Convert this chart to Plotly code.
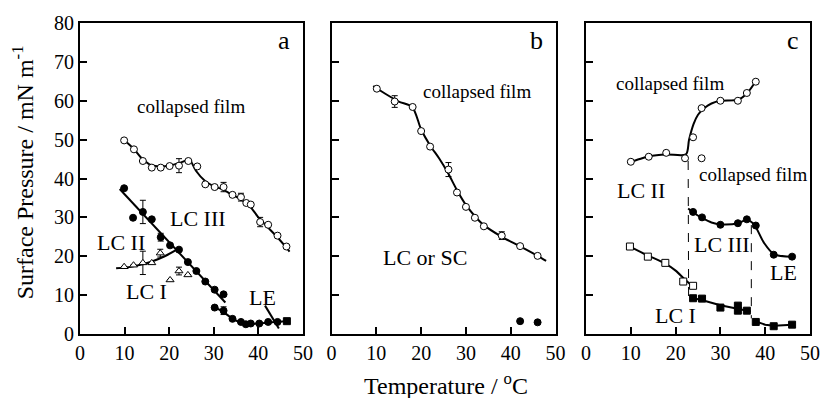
import plotly.graph_objects as go

# ---------------- Panel a data ----------------
a_open_T = [9.9, 12.1, 14.1, 16.1, 18.1, 20.1, 22.2, 24.3, 26.3, 28.1, 30.2, 32.2, 34.2, 36.1, 37.3, 38.3, 40.4, 42.2, 44.3, 46.3]
a_open_P = [49.8, 47.5, 44.5, 42.8, 42.8, 43.2, 43.3, 44.5, 43.1, 38.5, 37.8, 37.8, 35.8, 35.2, 33.7, 33.3, 28.8, 28.1, 25.3, 22.5]
a_open_err = [0, 0, 0, 0, 0, 0, 1.8, 0, 0, 0, 0, 1.2, 0, 1.0, 0, 0, 1.2, 0, 0, 0]
a_open_fit_T = [9.5, 12, 14, 16, 18, 20, 22, 24, 24.6, 26, 28, 30, 32, 34, 36, 38, 40, 42, 44, 46, 47]
a_open_fit_P = [50.3, 47.7, 45.0, 43.4, 43.1, 43.3, 43.9, 44.7, 44.8, 42.0, 39.4, 38.0, 37.2, 35.9, 34.7, 33.0, 30.0, 27.6, 25.2, 22.6, 21.2]

a_fill_T = [9.9, 11.9, 14.1, 16.1, 18.1, 20.2, 22.2, 24.2, 26.1, 28.1, 30.2, 32.2]
a_fill_P = [37.5, 29.9, 31.4, 29.5, 24.9, 22.8, 21.7, 18.5, 16.2, 13.5, 11.4, 10.2]
a_fill_err = [0, 0, 3.0, 0, 1.0, 0, 0, 0, 0, 0, 0, 0]
a_fill_fit_T = [8.9, 32.6]
a_fill_fit_P = [37.3, 8.1]

a_low_T = [30.2, 32.2, 34.2, 36.1, 37.2, 38.3, 40.2, 42.2, 44.3]
a_low_P = [6.8, 6.0, 3.9, 3.1, 2.5, 2.7, 2.7, 3.1, 3.1]
a_low_err = [0, 1.0, 0, 0, 0, 0, 0, 0, 0]
a_low_fit_T = [30, 32, 34, 36, 38, 40, 42, 44, 46]
a_low_fit_P = [7.0, 5.8, 4.1, 3.0, 2.6, 2.7, 2.9, 3.1, 3.3]
a_sq_T = [46.4]
a_sq_P = [3.3]
a_le_T = [41.5, 44.6]
a_le_P = [7.3, 1.4]

a_tri_T = [9.9, 12.0, 14.1, 16.1, 18.0, 20.2, 22.2, 24.2]
a_tri_P = [17.3, 17.7, 18.3, 18.3, 20.8, 13.9, 16.2, 15.2]
a_tri_err = [0, 0, 3.0, 0, 1.0, 0, 1.0, 0]
a_tri_fit_T = [8.1, 12, 16, 19, 22.2]
a_tri_fit_P = [16.9, 17.4, 18.6, 20.0, 22.0]

# ---------------- Panel b data ----------------
b_open_T = [10.1, 14.1, 18.1, 20.0, 22.0, 26.1, 28.0, 30.0, 32.0, 34.0, 38.0, 42.1, 46.0]
b_open_P = [63.1, 59.8, 58.4, 52.2, 48.2, 42.3, 36.4, 32.7, 29.9, 27.7, 25.3, 22.6, 20.1]
b_open_err = [0, 1.5, 0, 0, 0, 1.8, 0, 0, 0, 0, 1.0, 0, 0]
b_fit_T = [9.3, 12, 15, 18, 20, 22, 24, 26, 28, 30, 32, 34, 38, 42, 46, 47.9]
b_fit_P = [63.8, 61.8, 59.8, 58.4, 52.6, 48.5, 45.2, 41.4, 37.0, 33.2, 30.3, 28.0, 25.0, 22.6, 20.1, 18.8]
b_fill_T = [42.1, 46.0]
b_fill_P = [3.3, 3.0]

# ---------------- Panel c data ----------------
c_open_T = [10.0, 14.0, 17.9, 22.1, 23.9, 25.8, 30.0, 33.9, 35.9, 37.9]
c_open_P = [44.3, 45.6, 46.6, 45.2, 50.6, 58.1, 60.0, 60.0, 62.0, 64.9]
c_open_fit_T = [9.3, 12, 14, 18, 22.3, 23.0, 24.0, 25.0, 26.5, 28, 30, 34, 36, 38]
c_open_fit_P = [44.0, 45.0, 45.7, 46.2, 46.2, 50.0, 54.0, 56.4, 58.2, 59.3, 60.0, 60.3, 62.0, 65.2]
c_iso_T = [25.8]
c_iso_P = [45.2]

c_fill_T = [23.9, 25.9, 30.0, 33.9, 35.9, 37.9, 41.9, 46.0]
c_fill_P = [31.4, 30.0, 28.1, 28.5, 29.5, 27.9, 20.4, 19.9]
c_fill_fit_T = [22.8, 24, 26, 28, 30, 34, 35.9, 37.5, 39.7, 42, 46]
c_fill_fit_P = [32.3, 31.2, 29.8, 28.7, 28.2, 28.5, 29.4, 28.2, 23.5, 20.5, 19.9]

c_osq_T = [9.8, 13.8, 17.7, 21.7, 23.9]
c_osq_P = [22.5, 19.9, 18.3, 13.5, 12.4]
c_osq_fit_T = [9.8, 13.8, 17.7, 20, 22, 23.5]
c_osq_fit_P = [22.5, 20.2, 18.1, 16.3, 14.1, 12.6]

c_fsq_T = [23.9, 25.9, 30.0, 33.9, 33.9, 35.9, 37.9, 41.9, 46.0]
c_fsq_P = [9.2, 9.1, 6.8, 7.3, 6.0, 6.0, 3.1, 2.0, 2.4]
c_fsq_fit1_T = [23.5, 26, 30, 34, 36.8]
c_fsq_fit1_P = [9.3, 8.7, 7.4, 6.4, 5.8]
c_fsq_fit2_T = [37.7, 40, 42, 46]
c_fsq_fit2_P = [3.3, 2.4, 2.1, 2.4]

c_dash1_T = [22.8, 22.9]
c_dash1_P = [44.5, 9.0]
c_dash2_T = [36.9, 36.9]
c_dash2_P = [28.0, 4.0]

x_ticks = [0, 10, 20, 30, 40, 50]
y_ticks = [0, 10, 20, 30, 40, 50, 60, 70, 80]

FONT = "Liberation Serif"
fig = go.Figure()


def pts(T, P, ax, symbol, filled, err=None, size=7):
    kw = {}
    if err is not None:
        kw["error_y"] = dict(type="data", array=err, visible=True,
                             thickness=1, width=3, color="black")
    fig.add_trace(go.Scatter(
        x=T, y=P, mode="markers", xaxis="x" + ax, yaxis="y" + ax,
        marker=dict(symbol=symbol, size=size,
                    color="black" if filled else "white",
                    line=dict(color="black", width=1)),
        showlegend=False, cliponaxis=False, **kw))


def line(T, P, ax, dash="solid", width=2, spline=True):
    fig.add_trace(go.Scatter(
        x=T, y=P, mode="lines", xaxis="x" + ax, yaxis="y" + ax,
        line=dict(color="black", width=width, dash=dash,
                  shape="spline" if spline else "linear", smoothing=0.8),
        showlegend=False, hoverinfo="skip"))


# Panel a
line(a_open_fit_T, a_open_fit_P, "")
line(a_fill_fit_T, a_fill_fit_P, "", spline=False)
line(a_low_fit_T, a_low_fit_P, "")
line(a_le_T, a_le_P, "", spline=False)
line(a_tri_fit_T, a_tri_fit_P, "")
pts(a_open_T, a_open_P, "", "circle", False, a_open_err)
pts(a_fill_T, a_fill_P, "", "circle", True, a_fill_err)
pts(a_low_T, a_low_P, "", "circle", True, a_low_err)
pts(a_sq_T, a_sq_P, "", "square", True)
pts(a_tri_T, a_tri_P, "", "triangle-up", False, a_tri_err)

# Panel b
line(b_fit_T, b_fit_P, "2")
pts(b_open_T, b_open_P, "2", "circle", False, b_open_err)
pts(b_fill_T, b_fill_P, "2", "circle", True)

# Panel c
line(c_dash1_T, c_dash1_P, "3", dash="dash", width=1, spline=False)
line(c_dash2_T, c_dash2_P, "3", dash="dash", width=1, spline=False)
line(c_open_fit_T, c_open_fit_P, "3")
line(c_fill_fit_T, c_fill_fit_P, "3")
line(c_osq_fit_T, c_osq_fit_P, "3")
line(c_fsq_fit1_T, c_fsq_fit1_P, "3", spline=False)
line(c_fsq_fit2_T, c_fsq_fit2_P, "3", spline=False)
pts(c_open_T, c_open_P, "3", "circle", False)
pts(c_iso_T, c_iso_P, "3", "circle", False)
pts(c_fill_T, c_fill_P, "3", "circle", True)
pts(c_osq_T, c_osq_P, "3", "square", False)
pts(c_fsq_T, c_fsq_P, "3", "square", True)

domains = [[0.0, 0.3054], [0.3446, 0.6514], [0.6932, 1.0]]
axis_common = dict(showline=True, linecolor="black", linewidth=2, mirror=True,
                   ticks="inside", ticklen=7, tickwidth=1.5, tickcolor="black",
                   showgrid=False, zeroline=False,
                   tickfont=dict(family=FONT, size=20, color="black"))
layout = dict(width=832, height=398, margin=dict(l=80, r=12, t=14, b=64),
              plot_bgcolor="white", paper_bgcolor="white", showlegend=False)
for i, dom in enumerate(domains):
    s = "" if i == 0 else str(i + 1)
    layout["xaxis" + s] = dict(domain=dom, range=[0, 50], tickvals=x_ticks,
                               anchor="y" + s, **axis_common)
    layout["yaxis" + s] = dict(domain=[0, 1], range=[0, 80], tickvals=y_ticks,
                               anchor="x" + s, showticklabels=(i == 0),
                               **axis_common)
fig.update_layout(**layout)

labels = [
    ("", 25.0, 58.5, "collapsed film", 19),
    ("", 26.5, 29.8, "LC III", 22),
    ("", 9.1, 23.5, "LC II", 22),
    ("", 15.0, 11.0, "LC I", 22),
    ("", 41.0, 9.3, "LE", 22),
    ("", 45.8, 75.5, "a", 26),
    ("2", 32.4, 62.3, "collapsed film", 19),
    ("2", 20.9, 19.8, "LC or SC", 22),
    ("2", 45.8, 75.5, "b", 26),
    ("3", 18.7, 64.5, "collapsed film", 19),
    ("3", 37.2, 41.0, "collapsed film", 19),
    ("3", 12.3, 36.8, "LC II", 22),
    ("3", 30.4, 23.0, "LC III", 22),
    ("3", 44.0, 15.8, "LE", 22),
    ("3", 20.0, 4.8, "LC I", 22),
    ("3", 46.2, 75.5, "c", 26),
]
for ax, xv, yv, txt, sz in labels:
    fig.add_annotation(x=xv, y=yv, xref="x" + ax, yref="y" + ax, text=txt,
                       showarrow=False, font=dict(family=FONT, size=sz, color="black"))

fig.add_annotation(x=-0.078, y=0.52, xref="paper", yref="paper",
                   xanchor="center", yanchor="middle",
                   text="Surface Pressure / mN m<sup>-1</sup>", textangle=-90,
                   showarrow=False, font=dict(family=FONT, size=24, color="black"))
fig.add_annotation(x=(451 - 80) / 740, y=-(385 - 334) / 320, xref="paper", yref="paper",
                   xanchor="center", yanchor="middle",
                   text="Temperature / <sup>o</sup>C", showarrow=False,
                   font=dict(family=FONT, size=24, color="black"))

fig.write_html("out.html")
